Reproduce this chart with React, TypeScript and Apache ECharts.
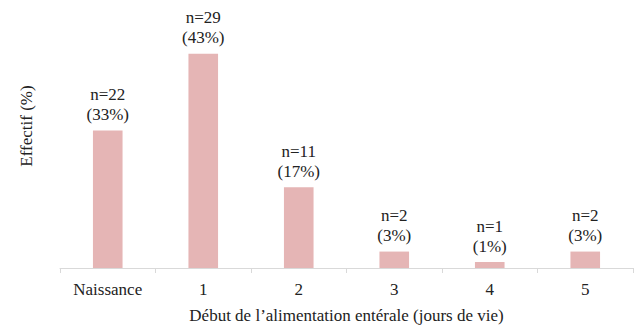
import React, { useEffect, useRef } from "react";
import * as echarts from "echarts";

const categories = ["Naissance", "1", "2", "3", "4", "5"];
// bar heights as drawn in the picture (percent scale)
const barHeights = [27.6, 43, 16.2, 3.3, 1.2, 3.3];
const counts = [22, 29, 11, 2, 1, 2];
const percents = [33, 43, 17, 3, 1, 3];

const FONT = "Liberation Serif";

export default function App() {
  const ref = useRef<HTMLDivElement>(null);
  useEffect(() => {
    if (!ref.current) return;
    const chart = echarts.init(ref.current, undefined, { renderer: "svg" });
    chart.setOption({
      animation: false,
      textStyle: { fontFamily: FONT },
      grid: { left: 60, right: 6, top: 19, bottom: 57 },
      xAxis: {
        type: "category",
        data: categories,
        name: "Début de l’alimentation entérale (jours de vie)",
        nameLocation: "middle",
        nameGap: 39,
        nameTextStyle: { fontFamily: FONT, fontSize: 17, color: "#222" },
        axisLine: { lineStyle: { color: "#d9d9d9", width: 1 } },
        axisTick: { show: true, length: 5, lineStyle: { color: "#d9d9d9" } },
        axisLabel: { fontFamily: FONT, fontSize: 17, color: "#222", margin: 13 },
      },
      yAxis: {
        type: "value",
        min: 0,
        max: 50,
        show: false,
        splitLine: { show: false },
      },
      graphic: [
        {
          type: "text",
          x: 26,
          y: 126,
          rotation: Math.PI / 2,
          style: {
            text: "Effectif (%)",
            fontFamily: FONT,
            fontSize: 17,
            fill: "#222",
            align: "center",
            verticalAlign: "middle",
          },
        },
      ],
      series: [
        {
          type: "bar",
          data: barHeights,
          barWidth: "31%",
          itemStyle: { color: "#e5b5b5" },
          label: {
            show: true,
            position: "top",
            distance: 6,
            fontFamily: FONT,
            fontSize: 17,
            lineHeight: 20,
            color: "#222",
            align: "center",
            formatter: (p: any) =>
              `n=${counts[p.dataIndex]}\n(${percents[p.dataIndex]}%)`,
          },
        },
      ],
    });
    return () => chart.dispose();
  }, []);
  return <div ref={ref} style={{ width: 639, height: 329, position: "absolute", left: 0, top: 0 }} />;
}
